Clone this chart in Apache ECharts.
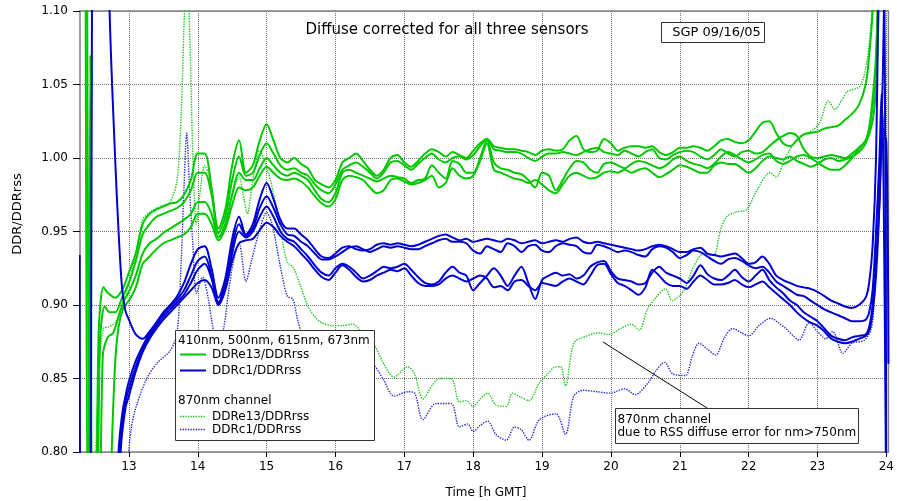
<!DOCTYPE html>
<html><head><meta charset="utf-8">
<script src="https://cdn.jsdelivr.net/npm/echarts@6/dist/echarts.min.js"></script>
<style>html,body{margin:0;padding:0;background:#fff}#c{width:897px;height:501px}</style>
</head><body><div id="c"></div>
<script>
// shared time grid (h GMT)
const hours = [
13.0,13.1,13.2,13.3,13.4,13.5,13.6,13.7,13.8,13.9,
14.0,14.1,14.2,14.3,14.4,14.5,14.6,14.7,14.8,14.9,
15.0,15.1,15.2,15.3,15.4,15.5,15.6,15.7,15.8,15.9,
16.0,16.1,16.2,16.3,16.4,16.5,16.6,16.7,16.8,16.9,
17.0,17.1,17.2,17.3,17.4,17.5,17.6,17.7,17.8,17.9,
18.0,18.1,18.2,18.3,18.4,18.5,18.6,18.7,18.8,18.9,
19.0,19.1,19.2,19.3,19.4,19.5,19.6,19.7,19.8,19.9,
20.0,20.1,20.2,20.3,20.4,20.5,20.6,20.7,20.8,20.9,
21.0,21.1,21.2,21.3,21.4,21.5,21.6,21.7,21.8,21.9,
22.0,22.1,22.2,22.3,22.4,22.5,22.6,22.7,22.8,22.9,
23.0,23.1,23.2,23.3,23.4,23.5,23.6];

// DDRe13/DDRrss, 410/500/615/673 nm
const e13_a = [
.922,.935,.955,.962,.965,.967,.969,.970,.975,.985,
1.003,1.003,.980,.952,.965,.995,1.012,.990,.995,1.012,
1.023,1.012,1.000,.997,1.000,.996,.993,.985,.982,.980,
.985,.997,1.000,1.003,.998,.992,.988,.992,1.000,1.002,
.997,.994,.998,1.003,1.006,1.004,1.001,1.004,1.002,1.000,
1.005,1.010,1.013,1.008,1.007,1.006,1.006,1.005,1.004,1.002,
1.005,1.006,1.005,1.006,1.012,1.015,1.006,1.004,1.005,1.013,
1.010,1.005,1.007,1.008,1.008,1.007,1.008,1.004,1.002,1.004,
1.007,1.007,1.008,1.007,1.005,1.008,1.012,1.013,1.011,1.010,
1.012,1.018,1.024,1.025,1.017,1.010,1.008,1.012,1.016,1.017,
1.018,1.020,1.021,1.022,1.026,1.030,1.036];
const e13_b = [
.915,.930,.948,.955,.960,.962,.964,.966,.970,.978,
.990,.990,.975,.949,.960,.985,1.001,.988,.990,1.002,
1.010,1.003,.995,.992,.993,.990,.988,.982,.978,.976,
.982,.992,.995,.997,.994,.990,.986,.990,.997,.998,
.995,.992,.996,1.000,1.003,.999,.997,1.000,1.001,.999,
1.002,1.008,1.013,1.006,1.005,1.004,1.004,1.003,1.000,.998,
1.001,1.003,1.003,1.004,1.003,1.002,1.004,1.006,1.007,1.004,
1.003,1.002,1.005,1.003,1.001,1.004,1.006,1.000,.999,1.002,
1.004,1.005,1.004,1.001,.999,1.002,1.006,1.003,1.001,1.004,
1.005,1.003,1.004,1.008,1.012,1.015,1.017,1.015,1.006,1.001,
1.000,1.001,1.002,1.001,1.000,1.003,1.007];
const e13_c = [
.909,.920,.935,.942,.945,.949,.952,.955,.958,.962,
.970,.970,.962,.946,.955,.975,.990,.985,.985,.993,
1.000,.995,.990,.988,.990,.988,.985,.978,.972,.970,
.976,.990,.992,.990,.988,.986,.984,.986,.988,.987,
.986,.983,.985,.986,.995,.990,.986,.998,.996,.990,
.990,1.000,1.012,.997,.993,.992,.990,.989,.985,.980,
.990,.988,.978,.985,.993,.998,.997,.992,.990,.996,
.997,.995,.993,.996,.998,.997,.995,.993,.995,.999,
1.001,.998,.996,.995,.993,.996,1.001,1.004,1.002,.999,
.997,.999,1.002,1.003,.998,.996,.998,1.001,1.002,1.000,
.997,.994,.992,.992,.995,1.000,1.006];
const e13_d = [
.903,.912,.928,.933,.938,.942,.944,.946,.948,.953,
.962,.962,.955,.944,.952,.968,.980,.978,.980,.988,
.994,.990,.986,.985,.986,.984,.980,.974,.969,.967,
.972,.985,.988,.987,.985,.980,.976,.978,.985,.986,
.984,.982,.983,.985,.988,.980,.983,.993,.988,.986,
.988,.998,1.010,.992,.990,.988,.986,.985,.983,.985,
.982,.978,.976,.982,.988,.990,.988,.986,.987,.990,
.991,.990,.992,.990,.992,.993,.990,.987,.989,.992,
.995,.994,.992,.990,.990,.995,.997,.996,.996,.993,
.990,.993,.998,1.001,1.000,.999,1.001,.998,.996,.994,
.996,.999,1.000,.998,.999,1.001,1.004];
// edges (before 13 h, after 23.6 h) as [hour, value]
const e13_a_head = [[12.37,1.2],[12.42,0.7],[12.50,0.7],[12.56,0.88],[12.63,0.912],[12.70,0.908],[12.80,0.905],[12.90,0.910]];
const e13_a_tail = [[23.7,1.05],[23.75,1.07],[23.8,1.10],[23.85,1.2]];
const e13_b_head = [[12.39,1.2],[12.45,0.7],[12.52,0.7],[12.58,0.875],[12.65,0.899],[12.72,0.895],[12.80,0.895],[12.90,0.905]];
const e13_b_tail = [[23.7,1.012],[23.75,1.02],[23.8,1.04],[23.85,1.07],[23.9,1.15]];
const e13_c_head = [[12.41,0.7],[12.44,1.07],[12.48,0.7],[12.55,0.7],[12.62,0.865],[12.69,0.878],[12.77,0.881],[12.85,0.892],[12.92,0.902]];
const e13_c_tail = [[23.7,1.012],[23.75,1.02],[23.8,1.035],[23.85,1.065],[23.9,1.15]];
const e13_d_head = [[12.69,0.7],[12.75,0.8],[12.80,0.86],[12.85,0.885],[12.92,0.898]];
const e13_d_tail = [[23.7,1.01],[23.8,1.025],[23.85,1.05],[23.9,1.12]];

// DDRc1/DDRrss, 410/500/615/673 nm
const c1_a = [
.890,.880,.877,.882,.888,.895,.900,.906,.915,.928,
.938,.940,.925,.905,.918,.945,.960,.948,.955,.972,
.983,.972,.958,.952,.952,.948,.944,.938,.933,.932,
.935,.939,.940,.938,.937,.938,.941,.942,.941,.942,
.941,.940,.941,.943,.945,.947,.948,.946,.944,.945,
.943,.944,.945,.944,.943,.945,.944,.942,.943,.944,
.942,.943,.944,.943,.945,.946,.943,.942,.943,.942,
.941,.940,.939,.938,.937,.938,.940,.941,.940,.938,
.936,.936,.938,.939,.935,.934,.933,.934,.935,.932,
.928,.929,.933,.928,.920,.917,.915,.913,.912,.911,
.909,.906,.903,.901,.899,.898,.900];
const c1_b = [
.848,.862,.872,.881,.888,.894,.899,.904,.910,.920,
.930,.933,.920,.902,.915,.940,.955,.947,.952,.966,
.974,.966,.955,.948,.947,.943,.940,.935,.931,.931,
.933,.936,.939,.940,.938,.936,.938,.940,.939,.940,
.939,.938,.938,.940,.942,.944,.945,.943,.943,.942,
.937,.935,.940,.938,.936,.942,.940,.936,.940,.941,
.937,.936,.940,.942,.941,.940,.936,.935,.941,.940,
.938,.936,.937,.936,.934,.933,.938,.940,.939,.936,
.932,.934,.937,.936,.933,.930,.928,.931,.932,.930,
.927,.925,.926,.922,.916,.913,.910,.907,.906,.903,
.900,.897,.895,.893,.891,.889,.889];
const c1_c = [
.843,.858,.870,.879,.886,.892,.897,.902,.907,.915,
.924,.928,.918,.901,.912,.935,.950,.946,.950,.960,
.967,.960,.950,.945,.943,.938,.933,.927,.922,.920,
.925,.928,.926,.922,.918,.920,.923,.926,.925,.926,
.928,.924,.919,.915,.914,.916,.922,.926,.922,.920,
.910,.915,.920,.925,.920,.913,.920,.926,.915,.904,
.917,.920,.922,.920,.921,.918,.920,.926,.929,.930,
.923,.918,.917,.916,.914,.915,.922,.926,.922,.920,
.918,.915,.920,.927,.921,.918,.917,.920,.924,.919,
.916,.920,.924,.917,.912,.908,.903,.900,.895,.892,
.889,.884,.879,.877,.876,.878,.879];
const c1_d = [
.838,.855,.868,.877,.884,.890,.895,.900,.905,.910,
.915,.917,.912,.900,.910,.930,.942,.944,.945,.951,
.956,.953,.947,.943,.940,.935,.930,.924,.919,.917,
.922,.927,.924,.919,.916,.917,.920,.922,.924,.923,
.925,.920,.915,.913,.913,.914,.918,.920,.918,.916,
.918,.920,.918,.912,.913,.910,.916,.917,.913,.910,
.915,.914,.913,.916,.918,.916,.914,.920,.927,.928,
.921,.915,.913,.910,.907,.912,.924,.920,.915,.913,
.913,.911,.916,.920,.917,.914,.914,.915,.917,.914,
.912,.914,.916,.912,.908,.904,.900,.895,.891,.888,
.886,.882,.877,.875,.874,.875,.877];
const c1_a_head = [[12.285,0.934],[12.31,0.7],[12.44,0.7],[12.47,1.2],[12.70,1.2],[12.72,1.10],[12.80,1.0],[12.85,0.95],[12.90,0.912],[12.95,0.896]];
const c1_a_tail = [[23.7,0.905],[23.75,0.915],[23.8,0.94],[23.85,1.0],[23.88,1.1],[23.9,1.2],[23.96,1.2],[24.0,0.7]];
const c1_b_head = [[12.78,0.7],[12.85,0.8],[12.9,0.825],[12.95,0.838]];
const c1_b_tail = [[23.7,0.89],[23.75,0.895],[23.8,0.91],[23.85,0.95],[23.9,1.0],[23.93,1.044],[23.96,0.98],[24.0,0.75]];
const c1_c_head = [[12.8,0.7],[12.87,0.8],[12.93,0.83]];
const c1_c_tail = [[23.7,0.88],[23.75,0.885],[23.8,0.9],[23.85,0.93],[23.9,0.97],[23.95,1.02],[24.0,1.01],[24.03,0.86]];
const c1_d_head = [[12.82,0.7],[12.88,0.8],[12.95,0.83]];
const c1_d_tail = [[23.7,0.879],[23.75,0.882],[23.8,0.895],[23.85,0.92],[23.9,0.97],[23.95,1.06],[23.98,1.15]];

// 870 nm channel, DDRe13/DDRrss
const e13_870_t = [12.45,12.52,12.57,12.63,12.7,12.8,12.9,13.0,13.1,13.2,13.3,13.4,13.5,13.6,13.7,13.76,13.8,13.84,13.88,13.93,13.98,14.03,14.1,14.15,14.25,14.32,14.4,14.5,14.6,14.66,14.72,14.8,14.9,15.0,15.1,15.2,15.3,15.38,15.5,15.6,15.7,15.8,15.95,16.1,16.25,16.4,16.56,16.7,16.85,17.05,17.15,17.27,17.4,17.51,17.68,17.8,17.9,18.0,18.1,18.21,18.33,18.48,18.57,18.7,18.81,18.96,19.08,19.2,19.27,19.34,19.46,19.6,19.82,19.97,20.14,20.29,20.41,20.53,20.65,20.79,20.89,21.06,21.2,21.35,21.49,21.59,21.68,21.8,21.97,22.12,22.31,22.4,22.54,22.73,22.93,23.03,23.16,23.25,23.35,23.43,23.62,23.72,23.79,23.83];
const e13_870_v = [0.70,0.80,0.86,0.884,0.885,0.888,0.900,0.915,0.935,0.958,0.963,0.966,0.968,0.970,0.985,1.03,1.09,1.13,1.09,1.00,0.955,0.975,0.995,0.990,0.960,0.946,0.955,0.975,0.987,0.975,0.962,0.985,1.005,0.994,0.976,0.951,0.929,0.926,0.912,0.899,0.892,0.888,0.886,0.886,0.887,0.880,0.873,0.860,0.851,0.858,0.853,0.836,0.845,0.850,0.850,0.834,0.835,0.831,0.836,0.840,0.832,0.831,0.840,0.837,0.835,0.847,0.853,0.858,0.858,0.845,0.874,0.878,0.881,0.880,0.884,0.887,0.883,0.897,0.905,0.911,0.903,0.910,0.926,0.935,0.934,0.951,0.960,0.963,0.965,0.978,0.990,0.987,1.001,1.014,1.019,1.024,1.039,1.033,1.039,1.045,1.049,1.067,1.10,1.15];

// 870 nm channel, DDRc1/DDRrss
const c1_870_t = [12.98,13.03,13.1,13.25,13.4,13.6,13.7,13.76,13.8,13.84,13.88,13.93,13.98,14.07,14.15,14.22,14.3,14.38,14.45,14.52,14.6,14.7,14.78,14.88,15.0,15.08,15.2,15.3,15.38,15.45,15.55,15.7,15.9,16.1,16.3,16.45,16.56,16.7,16.85,17.05,17.15,17.27,17.46,17.68,17.8,17.92,18.0,18.1,18.21,18.33,18.48,18.6,18.7,18.81,18.96,19.2,19.34,19.46,19.6,19.8,19.99,20.2,20.35,20.54,20.65,20.78,20.9,21.08,21.18,21.28,21.4,21.52,21.65,21.77,21.9,22.0,22.15,22.32,22.43,22.54,22.65,22.73,22.88,23.0,23.12,23.22,23.37,23.5,23.68,23.78,23.82,23.88,23.94,24.0];
const c1_870_v = [0.79,0.815,0.83,0.849,0.860,0.869,0.881,0.93,0.98,1.017,0.98,0.94,0.908,0.919,0.905,0.885,0.872,0.885,0.910,0.930,0.942,0.916,0.930,0.948,0.963,0.955,0.926,0.906,0.904,0.890,0.875,0.865,0.860,0.862,0.865,0.862,0.859,0.849,0.838,0.841,0.840,0.822,0.833,0.833,0.817,0.819,0.814,0.818,0.821,0.812,0.808,0.817,0.815,0.808,0.822,0.826,0.812,0.838,0.842,0.841,0.840,0.843,0.839,0.847,0.855,0.861,0.853,0.852,0.865,0.874,0.870,0.866,0.878,0.884,0.881,0.879,0.886,0.891,0.888,0.884,0.879,0.876,0.888,0.882,0.877,0.882,0.867,0.874,0.876,0.884,0.90,0.96,1.03,1.0];

const xTicks = [13,14,15,16,17,18,19,20,21,22,23,24];

const GREEN = '#00c800', BLUE = '#0000d2', GREEN_DOT = '#1ccc1c', BLUE_DOT = '#2a2ae0';
const FONT = '"DejaVu Sans", sans-serif';

function build(head, vals, tail){
  const out = head.slice();
  vals.forEach((v,i)=>out.push([hours[i], v]));
  tail.forEach(p=>out.push(p));
  return out;
}
function zip(ts, vs){ return ts.map((t,i)=>[t, vs[i]]); }

function solid(name, data, color){
  return {type:'line', name, data, showSymbol:false, smooth:0.3, clip:true, silent:true,
    lineStyle:{color, width:2}, itemStyle:{color}, z:3};
}
function dotted(name, data, color){
  return {type:'line', name, data, showSymbol:false, smooth:0.3, clip:true, silent:true,
    lineStyle:{color, width:1.4, type:[1.4,1.2]}, itemStyle:{color}, z:2};
}

const series = [
  dotted('DDRe13/DDRrss 870nm', zip(e13_870_t, e13_870_v), GREEN_DOT),
  dotted('DDRc1/DDRrss 870nm', zip(c1_870_t, c1_870_v), BLUE_DOT),
  solid('DDRe13/DDRrss 410nm', build(e13_a_head, e13_a, e13_a_tail), GREEN),
  solid('DDRe13/DDRrss 500nm', build(e13_b_head, e13_b, e13_b_tail), GREEN),
  solid('DDRe13/DDRrss 615nm', build(e13_c_head, e13_c, e13_c_tail), GREEN),
  solid('DDRe13/DDRrss 673nm', build(e13_d_head, e13_d, e13_d_tail), GREEN),
  solid('DDRc1/DDRrss 410nm', build(c1_a_head, c1_a, c1_a_tail), BLUE),
  solid('DDRc1/DDRrss 500nm', build(c1_b_head, c1_b, c1_b_tail), BLUE),
  solid('DDRc1/DDRrss 615nm', build(c1_c_head, c1_c, c1_c_tail), BLUE),
  solid('DDRc1/DDRrss 673nm', build(c1_d_head, c1_d, c1_d_tail), BLUE)
];

const txt = (x,y,text,size)=>({type:'text', x, y, z:110,
  style:{text, font: size+'px '+FONT, fill:'#000', verticalAlign:'middle', align:'left'}});
const seg = (x1,y1,x2,y2,stroke,w,dash)=>({type:'line', z:110, shape:{x1,y1,x2,y2}, style:{stroke, lineWidth:w, lineDash:dash||null}});

const graphic = [
  {type:'text', z:110, x:447, y:30, style:{text:'Diffuse corrected for all three sensors', font:'15px '+FONT, fill:'#000', align:'center', verticalAlign:'middle'}},
  {type:'rect', z:105, shape:{x:661.5, y:22.5, width:103, height:20}, style:{fill:'#fff', stroke:'#333', lineWidth:1}},
  {type:'text', z:110, x:716.5, y:32.7, style:{text:'SGP 09/16/05', font:'13px '+FONT, fill:'#000', align:'center', verticalAlign:'middle'}},
  // legend
  {type:'rect', z:105, shape:{x:175.5, y:330.5, width:199, height:110}, style:{fill:'#fff', stroke:'#333', lineWidth:1}},
  txt(178, 340.5, '410nm, 500nm, 615nm, 673nm', 12),
  seg(180, 354.5, 206, 354.5, GREEN, 2),
  txt(212, 354.5, 'DDRe13/DDRrss', 12),
  seg(180, 370.5, 206, 370.5, BLUE, 2),
  txt(212, 370.5, 'DDRc1/DDRrss', 12),
  txt(178, 401, '870nm channel', 12),
  seg(180, 416.5, 206, 416.5, GREEN_DOT, 1.4, [1.4,1.2]),
  txt(212, 416.5, 'DDRe13/DDRrss', 12),
  seg(180, 429.5, 206, 429.5, BLUE_DOT, 1.4, [1.4,1.2]),
  txt(212, 429.5, 'DDRc1/DDRrss', 12),
  // annotation
  seg(603, 342, 707, 408, '#000', 1),
  {type:'rect', z:105, shape:{x:615.5, y:408.5, width:243, height:35}, style:{fill:'#fff', stroke:'#333', lineWidth:1}},
  txt(617.5, 419.5, '870nm channel', 12),
  txt(617.5, 433, 'due to RSS diffuse error for nm>750nm', 12),
  // axis names
  {type:'text', z:110, x:17.5, y:214, rotation:Math.PI/2, style:{text:'DDR/DDRrss', font:'13px '+FONT, fill:'#000', align:'center', verticalAlign:'middle'}},
  {type:'text', z:110, x:486, y:493, style:{text:'Time [h GMT]', font:'12px '+FONT, fill:'#000', align:'center', verticalAlign:'middle'}}
];

const chart = echarts.init(document.getElementById('c'), null, {renderer:'canvas'});
chart.setOption({
  animation:false,
  backgroundColor:'#fff',
  grid:{left:80, top:11, right:4, bottom:49, show:true, borderColor:'#808080', borderWidth:1.5, backgroundColor:'transparent'},
  xAxis:{type:'value', min:12.29, max:24.03,
    axisLine:{show:false},
    axisTick:{show:true, inside:false, length:5, lineStyle:{color:'#000'}, customValues:xTicks},
    axisLabel:{customValues:xTicks, margin:9, color:'#000', fontSize:12, fontFamily:FONT, formatter:v=>String(Math.round(v))},
    splitLine:{show:true, lineStyle:{color:'#777', width:1, type:[1,1]}}},
  yAxis:{type:'value', min:0.80, max:1.10, interval:0.05,
    axisLine:{show:false},
    axisTick:{show:true, inside:false, length:7, lineStyle:{color:'#000'}},
    axisLabel:{margin:12, color:'#000', fontSize:12, fontFamily:FONT, formatter:v=>v.toFixed(2)},
    splitLine:{show:true, lineStyle:{color:'#777', width:1, type:[1,1]}}},
  series,
  graphic
});
</script></body></html>
